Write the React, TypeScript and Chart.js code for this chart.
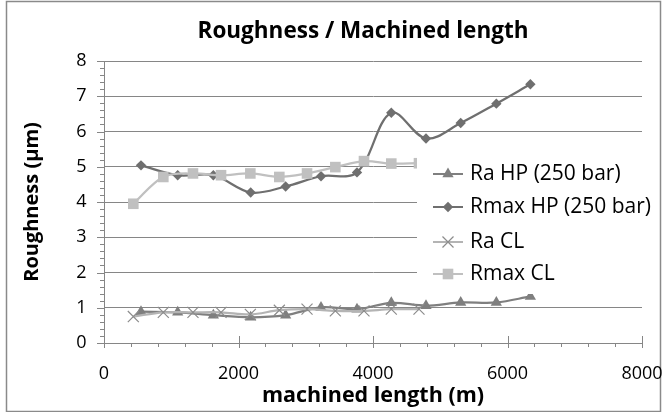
import React, { useEffect, useRef } from 'react';
import { Chart, registerables } from 'chart.js';

Chart.register(...registerables);

// Machined length (m) for each measurement
const hpLength = [550, 1096, 1626, 2181, 2701, 3227, 3762, 4272, 4788, 5304, 5834, 6340];
const clLength = [436, 882, 1323, 1740, 2176, 2607, 3019, 3440, 3866, 4272, 4684];

// Roughness values (µm)
const raHP = [0.89, 0.87, 0.79, 0.73, 0.79, 1.01, 0.96, 1.14, 1.06, 1.15, 1.15, 1.32];
const rmaxHP = [5.04, 4.76, 4.76, 4.27, 4.44, 4.73, 4.84, 6.53, 5.8, 6.24, 6.79, 7.34];
const raCL = [0.75, 0.87, 0.87, 0.87, 0.81, 0.93, 0.96, 0.91, 0.91, 0.96, 0.96];
const rmaxCL = [3.95, 4.71, 4.81, 4.76, 4.81, 4.71, 4.81, 4.99, 5.16, 5.09, 5.1];

const seriesNames = ['Ra HP (250 bar)', 'Rmax HP (250 bar)', 'Ra CL', 'Rmax CL'];
const chartTitle = 'Roughness / Machined length';
const xTitle = 'machined length (m)';
const yTitle = 'Roughness (µm)';

const FONT = "'Open Sans', sans-serif";
const GRID = '#868686';

const styles = [
  { line: '#7f7f7f', point: '#7f7f7f', shape: 'triangle', r: 6.5 },
  { line: '#6f6f6f', point: '#6f6f6f', shape: 'rectRot', r: 5.2 },
  { line: '#b4b4b4', point: '#8c8c8c', shape: 'crossRot', r: 7.8 },
  { line: '#c0c0c0', point: '#c0c0c0', shape: 'rect', r: 7.5 },
];

function drawMarker(ctx: CanvasRenderingContext2D, shape: string, x: number, y: number, r: number, color: string) {
  ctx.save();
  ctx.fillStyle = color;
  ctx.strokeStyle = color;
  ctx.lineWidth = 1.2;
  ctx.beginPath();
  if (shape === 'triangle') {
    ctx.moveTo(x, y - r);
    ctx.lineTo(x + 0.866 * r, y + r / 2);
    ctx.lineTo(x - 0.866 * r, y + r / 2);
    ctx.closePath();
    ctx.fill();
  } else if (shape === 'rectRot') {
    ctx.moveTo(x, y - r);
    ctx.lineTo(x + r, y);
    ctx.lineTo(x, y + r);
    ctx.lineTo(x - r, y);
    ctx.closePath();
    ctx.fill();
  } else if (shape === 'crossRot') {
    const d = r * 0.707;
    ctx.moveTo(x - d, y - d);
    ctx.lineTo(x + d, y + d);
    ctx.moveTo(x + d, y - d);
    ctx.lineTo(x - d, y + d);
    ctx.stroke();
  } else {
    const d = r * 0.707;
    ctx.rect(x - d, y - d, 2 * d, 2 * d);
    ctx.fill();
  }
  ctx.restore();
}

const framePlugin = {
  id: 'frame',
  afterLayout(chart: any) {
    const t = chart.titleBlock;
    if (t) {
      t.left = 84;
      t.right = 642;
    }
  },
  beforeDraw(chart: any) {
    const { ctx, width, height } = chart;
    ctx.save();
    ctx.fillStyle = '#ffffff';
    ctx.fillRect(0, 0, width, height);
    ctx.strokeStyle = '#8a8a8a';
    ctx.lineWidth = 1.5;
    ctx.strokeRect(6.5, 1.5, 654, 410);
    ctx.restore();
  },
  afterDraw(chart: any) {
    const { ctx } = chart;
    const xs = chart.scales.x;
    const ys = chart.scales.y;
    const area = chart.chartArea;
    ctx.save();
    ctx.strokeStyle = GRID;
    ctx.lineWidth = 1;
    ctx.beginPath();
    for (let v = 0; v <= 8000; v += 400) {
      const px = Math.round(xs.getPixelForValue(v)) + 0.5;
      if (v % 2000 === 0) {
        ctx.moveTo(px, area.bottom - 7);
        ctx.lineTo(px, area.bottom + 5);
      } else {
        ctx.moveTo(px, area.bottom);
        ctx.lineTo(px, area.bottom + 4);
      }
    }
    for (let i = 0; i <= 40; i++) {
      const py = Math.round(ys.getPixelForValue(i * 0.2)) + 0.5;
      if (i % 5 === 0) {
        ctx.moveTo(area.left - 7, py);
        ctx.lineTo(area.left, py);
      } else {
        ctx.moveTo(area.left - 4, py);
        ctx.lineTo(area.left, py);
      }
    }
    ctx.stroke();
    ctx.restore();
  },
};

const legendPlugin = {
  id: 'insideLegend',
  afterDatasetsDraw(chart: any) {
    const { ctx } = chart;
    ctx.save();
    ctx.fillStyle = '#ffffff';
    ctx.fillRect(417, 150, 238, 144);
    ctx.font = `21px ${FONT}`;
    ctx.textBaseline = 'middle';
    ctx.textAlign = 'left';
    const rows = [174, 207, 242, 274];
    seriesNames.forEach((name, i) => {
      const s = styles[i];
      const y = rows[i];
      ctx.strokeStyle = s.line;
      ctx.lineWidth = 2;
      ctx.beginPath();
      ctx.moveTo(433, y);
      ctx.lineTo(463, y);
      ctx.stroke();
      drawMarker(ctx, s.shape, 448, y, s.r, s.point);
      ctx.fillStyle = '#000000';
      ctx.fillText(name, 470, y);
    });
    ctx.restore();
  },
};

export default function App() {
  const ref = useRef<HTMLCanvasElement | null>(null);

  useEffect(() => {
    if (!ref.current) return;
    const mk = (xs: number[], ys: number[]) => xs.map((x, i) => ({ x, y: ys[i] }));
    const datasets = [
      { data: mk(hpLength, raHP), order: 4 },
      { data: mk(hpLength, rmaxHP), order: 3 },
      { data: mk(clLength, raCL), order: 2 },
      { data: mk(clLength, rmaxCL), order: 1 },
    ].map((d, i) => ({
      label: seriesNames[i],
      data: d.data,
      order: d.order,
      borderColor: styles[i].line,
      backgroundColor: styles[i].point,
      pointBackgroundColor: styles[i].point,
      pointBorderColor: styles[i].point,
      pointBorderWidth: styles[i].shape === 'crossRot' ? 1.2 : 0,
      pointStyle: styles[i].shape as any,
      pointRadius: styles[i].r,
      borderWidth: 2.25,
      tension: 0.35,
      fill: false,
    }));

    const chart = new Chart(ref.current, {
      type: 'line',
      data: { datasets },
      plugins: [framePlugin, legendPlugin],
      options: {
        animation: false,
        responsive: false,
        devicePixelRatio: 1,
        layout: { padding: { left: 0, right: 0, top: 0, bottom: 0 } },
        plugins: {
          legend: { display: false },
          tooltip: { enabled: false },
          title: {
            display: true,
            text: chartTitle,
            color: '#000000',
            font: { family: FONT, size: 22.5, weight: 'bold' },
            padding: { top: 18.5, bottom: 15.5 },
          },
        },
        scales: {
          x: {
            type: 'linear',
            min: 0,
            max: 8000,
            ticks: {
              stepSize: 2000,
              color: '#000000',
              font: { family: FONT, size: 18 },
              padding: 20,
              maxRotation: 0,
              callback: (v: any) => String(v),
            },
            grid: { display: false, drawTicks: false },
            border: { display: true, color: GRID, width: 1 },
            title: {
              display: true,
              text: xTitle,
              color: '#000000',
              font: { family: FONT, size: 21.5, weight: 'bold' },
              padding: { top: 0, bottom: 3 },
            },
            afterFit(scale: any) {
              scale.height = 69;
              scale.paddingLeft = 0;
              scale.paddingRight = 20;
            },
          },
          y: {
            type: 'linear',
            min: 0,
            max: 8,
            ticks: {
              stepSize: 1,
              color: '#000000',
              font: { family: FONT, size: 18 },
              padding: 17.5,
              callback: (v: any) => String(v),
            },
            grid: { color: GRID, lineWidth: 1, drawTicks: false },
            border: { display: true, color: GRID, width: 1 },
            title: {
              display: true,
              text: yTitle,
              color: '#000000',
              font: { family: FONT, size: 20, weight: 'bold' },
              padding: { top: 20, bottom: 0 },
            },
            afterFit(scale: any) {
              scale.width = 104;
            },
          },
        },
      },
    });
    return () => chart.destroy();
  }, []);

  return (
    <div style={{ position: 'fixed', left: 0, top: 0, width: 662, height: 412, background: '#fff' }}>
      <canvas ref={ref} width={662} height={412} style={{ width: 662, height: 412, display: 'block' }} />
    </div>
  );
}
